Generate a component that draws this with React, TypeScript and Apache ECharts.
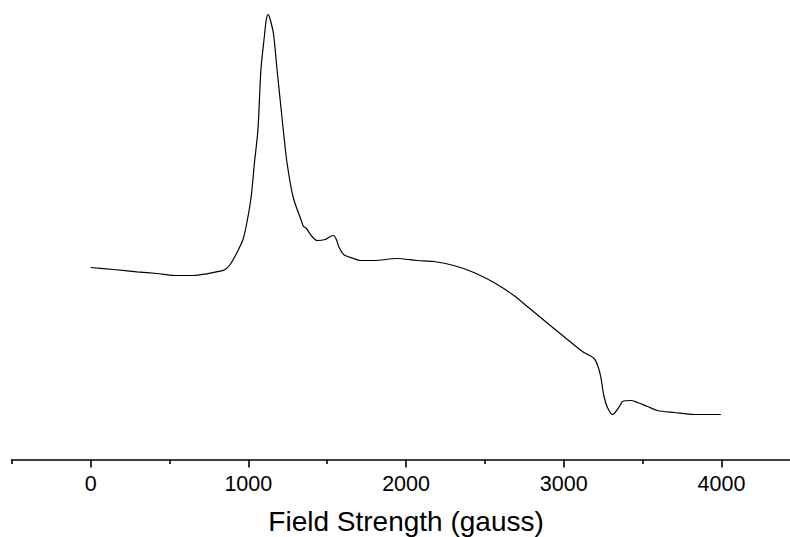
import React, { useEffect, useRef } from "react";
import * as echarts from "echarts";

// Field strength (gauss)
const fieldGauss = [
  0, 144, 293, 420, 547, 652, 737, 822, 853, 885, 928, 966, 991, 1018, 1039, 1061,
  1080, 1103, 1114, 1126, 1139, 1160, 1182, 1228, 1245, 1283, 1340, 1350, 1368, 1404,
  1436, 1488, 1520, 1541, 1558, 1573, 1604, 1668, 1710, 1795, 1943, 2070, 2176, 2303,
  2430, 2557, 2684, 2769, 2853, 2938, 3023, 3118, 3192, 3217, 3234, 3255,
  3277, 3309, 3330, 3361, 3372, 3425, 3467, 3531, 3594, 3700, 3827, 3996,
];
// Signal intensity (arbitrary units)
const intensity = [
  192, 190, 187.7, 186, 184, 184, 185.7, 188.3, 190, 195, 207, 220, 237, 263, 297, 330,
  390, 425, 440, 445, 440, 425, 390, 320, 297, 263, 237, 233, 231, 223,
  219, 220, 223, 224, 220, 213, 205, 201, 199, 199, 201, 199, 198, 194,
  187, 177, 164, 153, 142, 131, 120, 108, 101, 93, 83, 63,
  52, 45, 48, 55, 58, 59, 57, 53, 49, 47, 45, 45,
];
const majorTicks = [0, 1000, 2000, 3000, 4000];
const minorTicks = [-500, 500, 1500, 2500, 3500, 4500];
const axisName = "Field Strength (gauss)";

export default function App() {
  const ref = useRef<HTMLDivElement>(null);
  useEffect(() => {
    if (!ref.current) return;
    const chart = echarts.init(ref.current, null, { renderer: "svg" });
    const data = fieldGauss.map((x, i) => [x, intensity[i]]);
    chart.setOption({
      animation: false,
      backgroundColor: "#ffffff",
      grid: {
        left: 11.75,
        width: 788.6,
        top: 0,
        bottom: 77.5,
        containLabel: false,
        outerBoundsMode: "none",
      },
      xAxis: [
        {
          type: "value",
          min: -500,
          max: 4500,
          position: "bottom",
          axisLine: { show: true, lineStyle: { color: "#000", width: 1.6 } },
          axisTick: { show: true, customValues: majorTicks, length: 8, lineStyle: { color: "#000", width: 1.6 } },
          axisLabel: {
            customValues: majorTicks,
            formatter: (v: number) => String(v),
            margin: 13,
            color: "#000",
            fontSize: 21.5,
            fontFamily: "Liberation Sans, Arial, sans-serif",
          },
          splitLine: { show: false },
          name: axisName,
          nameLocation: "middle",
          nameGap: 48,
          nameTextStyle: { color: "#000", fontSize: 28, fontFamily: "Liberation Sans, Arial, sans-serif" },
        },
        {
          type: "value",
          min: -500,
          max: 4500,
          position: "bottom",
          axisLine: { show: false },
          axisTick: { show: true, customValues: minorTicks, length: 4.5, lineStyle: { color: "#000", width: 1.6 } },
          axisLabel: { show: false },
          splitLine: { show: false },
        },
      ],
      yAxis: { type: "value", min: 0, max: 459.5, show: false },
      series: [
        {
          type: "line",
          data,
          xAxisIndex: 0,
          showSymbol: false,
          smooth: 0.3,
          lineStyle: { color: "#000", width: 1.2 },
        },
      ],
    });
    return () => chart.dispose();
  }, []);
  return (
    <div
      ref={ref}
      style={{ position: "fixed", left: 0, top: 0, width: 790, height: 537, background: "#fff" }}
    />
  );
}
